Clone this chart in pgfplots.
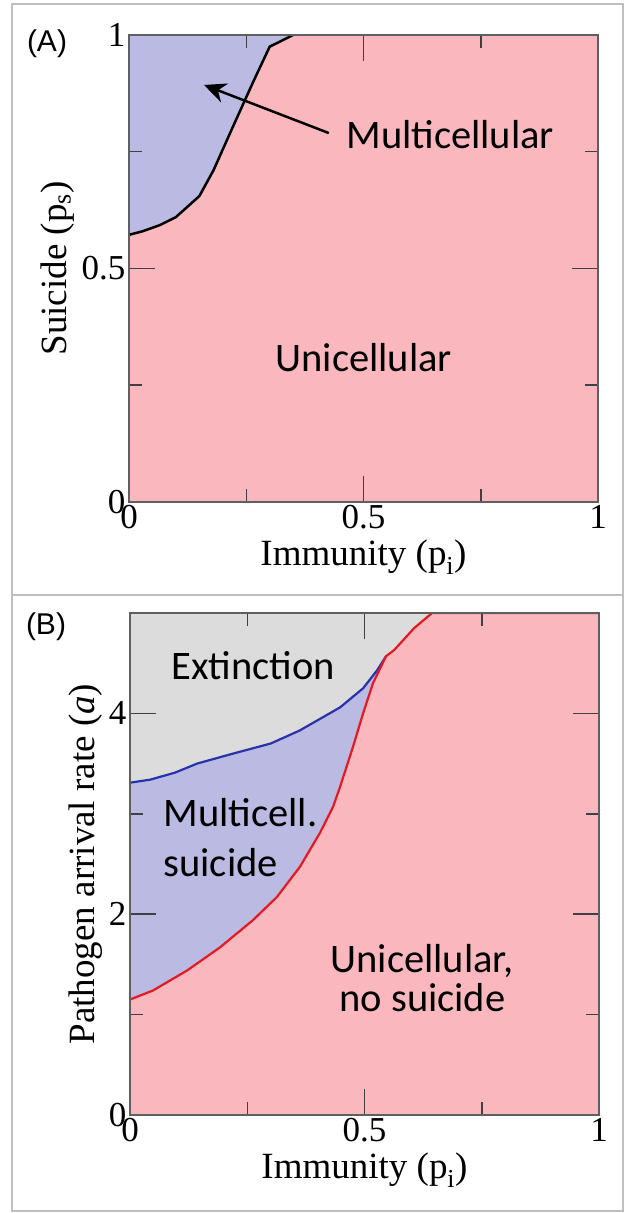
\documentclass[border=0pt]{standalone}
\usepackage{pgfplots}
\pgfplotsset{compat=1.18}
\usetikzlibrary{arrows.meta}
\usepackage{fontspec}
\setmainfont{Liberation Serif}
\newfontfamily\calfont{Carlito}
\newfontfamily\arialfont{Liberation Sans}
\definecolor{pinkc}{RGB}{250,184,190}
\definecolor{bluec}{RGB}{186,186,226}
\definecolor{grayc}{RGB}{220,220,220}
\definecolor{boxc}{RGB}{190,190,190}
\definecolor{axc}{RGB}{95,95,95}
\definecolor{redl}{RGB}{230,25,35}
\definecolor{bluel}{RGB}{40,50,170}
\pgfplotsset{
  common/.style={
    scale only axis, xmin=0, xmax=1, axis on top,
    tick align=inside,
    xtick={0,0.5,1}, xticklabels={0,0.5,1}, minor xtick={0.25,0.75},
    major tick length=26pt, minor tick length=13pt,
    axis line style={axc, line width=1.8pt},
    tick style={black!75, line width=1.5pt},
    minor tick style={black!75, line width=1.5pt},
    /pgf/number format/assume math mode=true,
    ticklabel style={font=\fontsize{35}{35}\selectfont},
    label style={font=\fontsize{37}{37}\selectfont},
    xlabel={Immunity (p\textsubscript{i})},
    xlabel style={yshift=-4pt},
  }
}
\begin{document}
\begin{tikzpicture}[x=1pt,y=1pt]
\path[use as bounding box] (0,0) rectangle (624,1213);
\draw[boxc, line width=2pt] (12,2) rectangle (623,1209);
\draw[boxc, line width=2pt] (12,618) -- (623,618);
\node[font=\arialfont\fontsize{30}{30}\selectfont] at (47,1169) {(A)};
\node[font=\arialfont\fontsize{30}{30}\selectfont] at (46,586) {(B)};

% ---------------- Panel A ----------------
\begin{axis}[common, at={(129pt,711pt)}, anchor=south west,
  width=469pt, height=467pt, ymin=0, ymax=1,
  ytick={0,0.5,1}, yticklabels={0,0.5,1}, minor ytick={0.25,0.75},
  ylabel={Suicide (p\textsubscript{s})},
]
\addplot[fill=pinkc, draw=none] coordinates {(0,0) (1,0) (1,1) (0,1)} -- cycle;
\addplot[fill=bluec, draw=none] coordinates {
 (0,1) (0,0.572) (0.03,0.58) (0.066,0.593) (0.10,0.61) (0.15,0.655)
 (0.18,0.71) (0.22,0.80) (0.265,0.90) (0.30,0.975) (0.35,1.0)} -- cycle;
\addplot[black, line width=2.5pt] coordinates {
 (0,0.572) (0.03,0.58) (0.066,0.593) (0.10,0.61) (0.15,0.655)
 (0.18,0.71) (0.22,0.80) (0.265,0.90) (0.30,0.975) (0.35,1.0)};
\draw[black, line width=2.5pt, -{Stealth[length=22pt,width=20pt]}]
  (axis cs:0.426,0.79) -- (axis cs:0.160,0.893);
\node[anchor=base west, font=\calfont\fontsize{40.5}{40.5}\selectfont]
  at (axis cs:0.456,0.758) {Multicellular};
\node[anchor=base west, font=\calfont\fontsize{40.5}{40.5}\selectfont]
  at (axis cs:0.305,0.280) {Unicellular};
\end{axis}

% ---------------- Panel B ----------------
\begin{axis}[common, at={(130pt,98pt)}, anchor=south west,
  width=469pt, height=502pt, ymin=0, ymax=5,
  ytick={0,2,4}, yticklabels={0,2,4}, minor ytick={1,3,5},
  ylabel={Pathogen arrival rate (\textit{a})},
]
\addplot[fill=grayc, draw=none] coordinates {(0,0) (1,0) (1,5) (0,5)} -- cycle;
\addplot[fill=bluec, draw=none] coordinates {
 (0,0) (0,3.31) (0.043,3.34) (0.096,3.41) (0.143,3.50) (0.22,3.60)
 (0.30,3.70) (0.362,3.83) (0.448,4.06) (0.497,4.25) (0.527,4.43)
 (0.546,4.57) (0.546,0)} -- cycle;
\addplot[fill=pinkc, draw=none] coordinates {
 (0,0) (0,1.15) (0.049,1.24) (0.122,1.44) (0.192,1.67) (0.262,1.94)
 (0.313,2.17) (0.362,2.47) (0.405,2.81) (0.433,3.07) (0.448,3.27)
 (0.475,3.66) (0.497,4.0) (0.518,4.30) (0.546,4.57) (0.563,4.63)
 (0.606,4.85) (0.644,5.0) (1,5) (1,0)} -- cycle;
\addplot[bluel, line width=2.2pt] coordinates {
 (0,3.31) (0.043,3.34) (0.096,3.41) (0.143,3.50) (0.22,3.60)
 (0.30,3.70) (0.362,3.83) (0.448,4.06) (0.497,4.25) (0.527,4.43)
 (0.546,4.57)};
\addplot[redl, line width=2.2pt] coordinates {
 (0,1.15) (0.049,1.24) (0.122,1.44) (0.192,1.67) (0.262,1.94)
 (0.313,2.17) (0.362,2.47) (0.405,2.81) (0.433,3.07) (0.448,3.27)
 (0.475,3.66) (0.497,4.0) (0.518,4.30) (0.546,4.57) (0.563,4.63)
 (0.606,4.85) (0.644,5.0) (1,5)};
\node[anchor=base west, font=\calfont\fontsize{40.5}{40.5}\selectfont]
  at (axis cs:0.081,4.333) {Extinction};
\node[anchor=base west, font=\calfont\fontsize{40.5}{40.5}\selectfont]
  at (axis cs:0.064,2.869) {Multicell.};
\node[anchor=base west, font=\calfont\fontsize{40.5}{40.5}\selectfont]
  at (axis cs:0.064,2.371) {suicide};
\node[anchor=base west, font=\calfont\fontsize{40.5}{40.5}\selectfont]
  at (axis cs:0.420,1.424) {Unicellular,};
\node[anchor=base west, font=\calfont\fontsize{40.5}{40.5}\selectfont]
  at (axis cs:0.439,1.026) {no suicide};
\end{axis}
\end{tikzpicture}
\end{document}
